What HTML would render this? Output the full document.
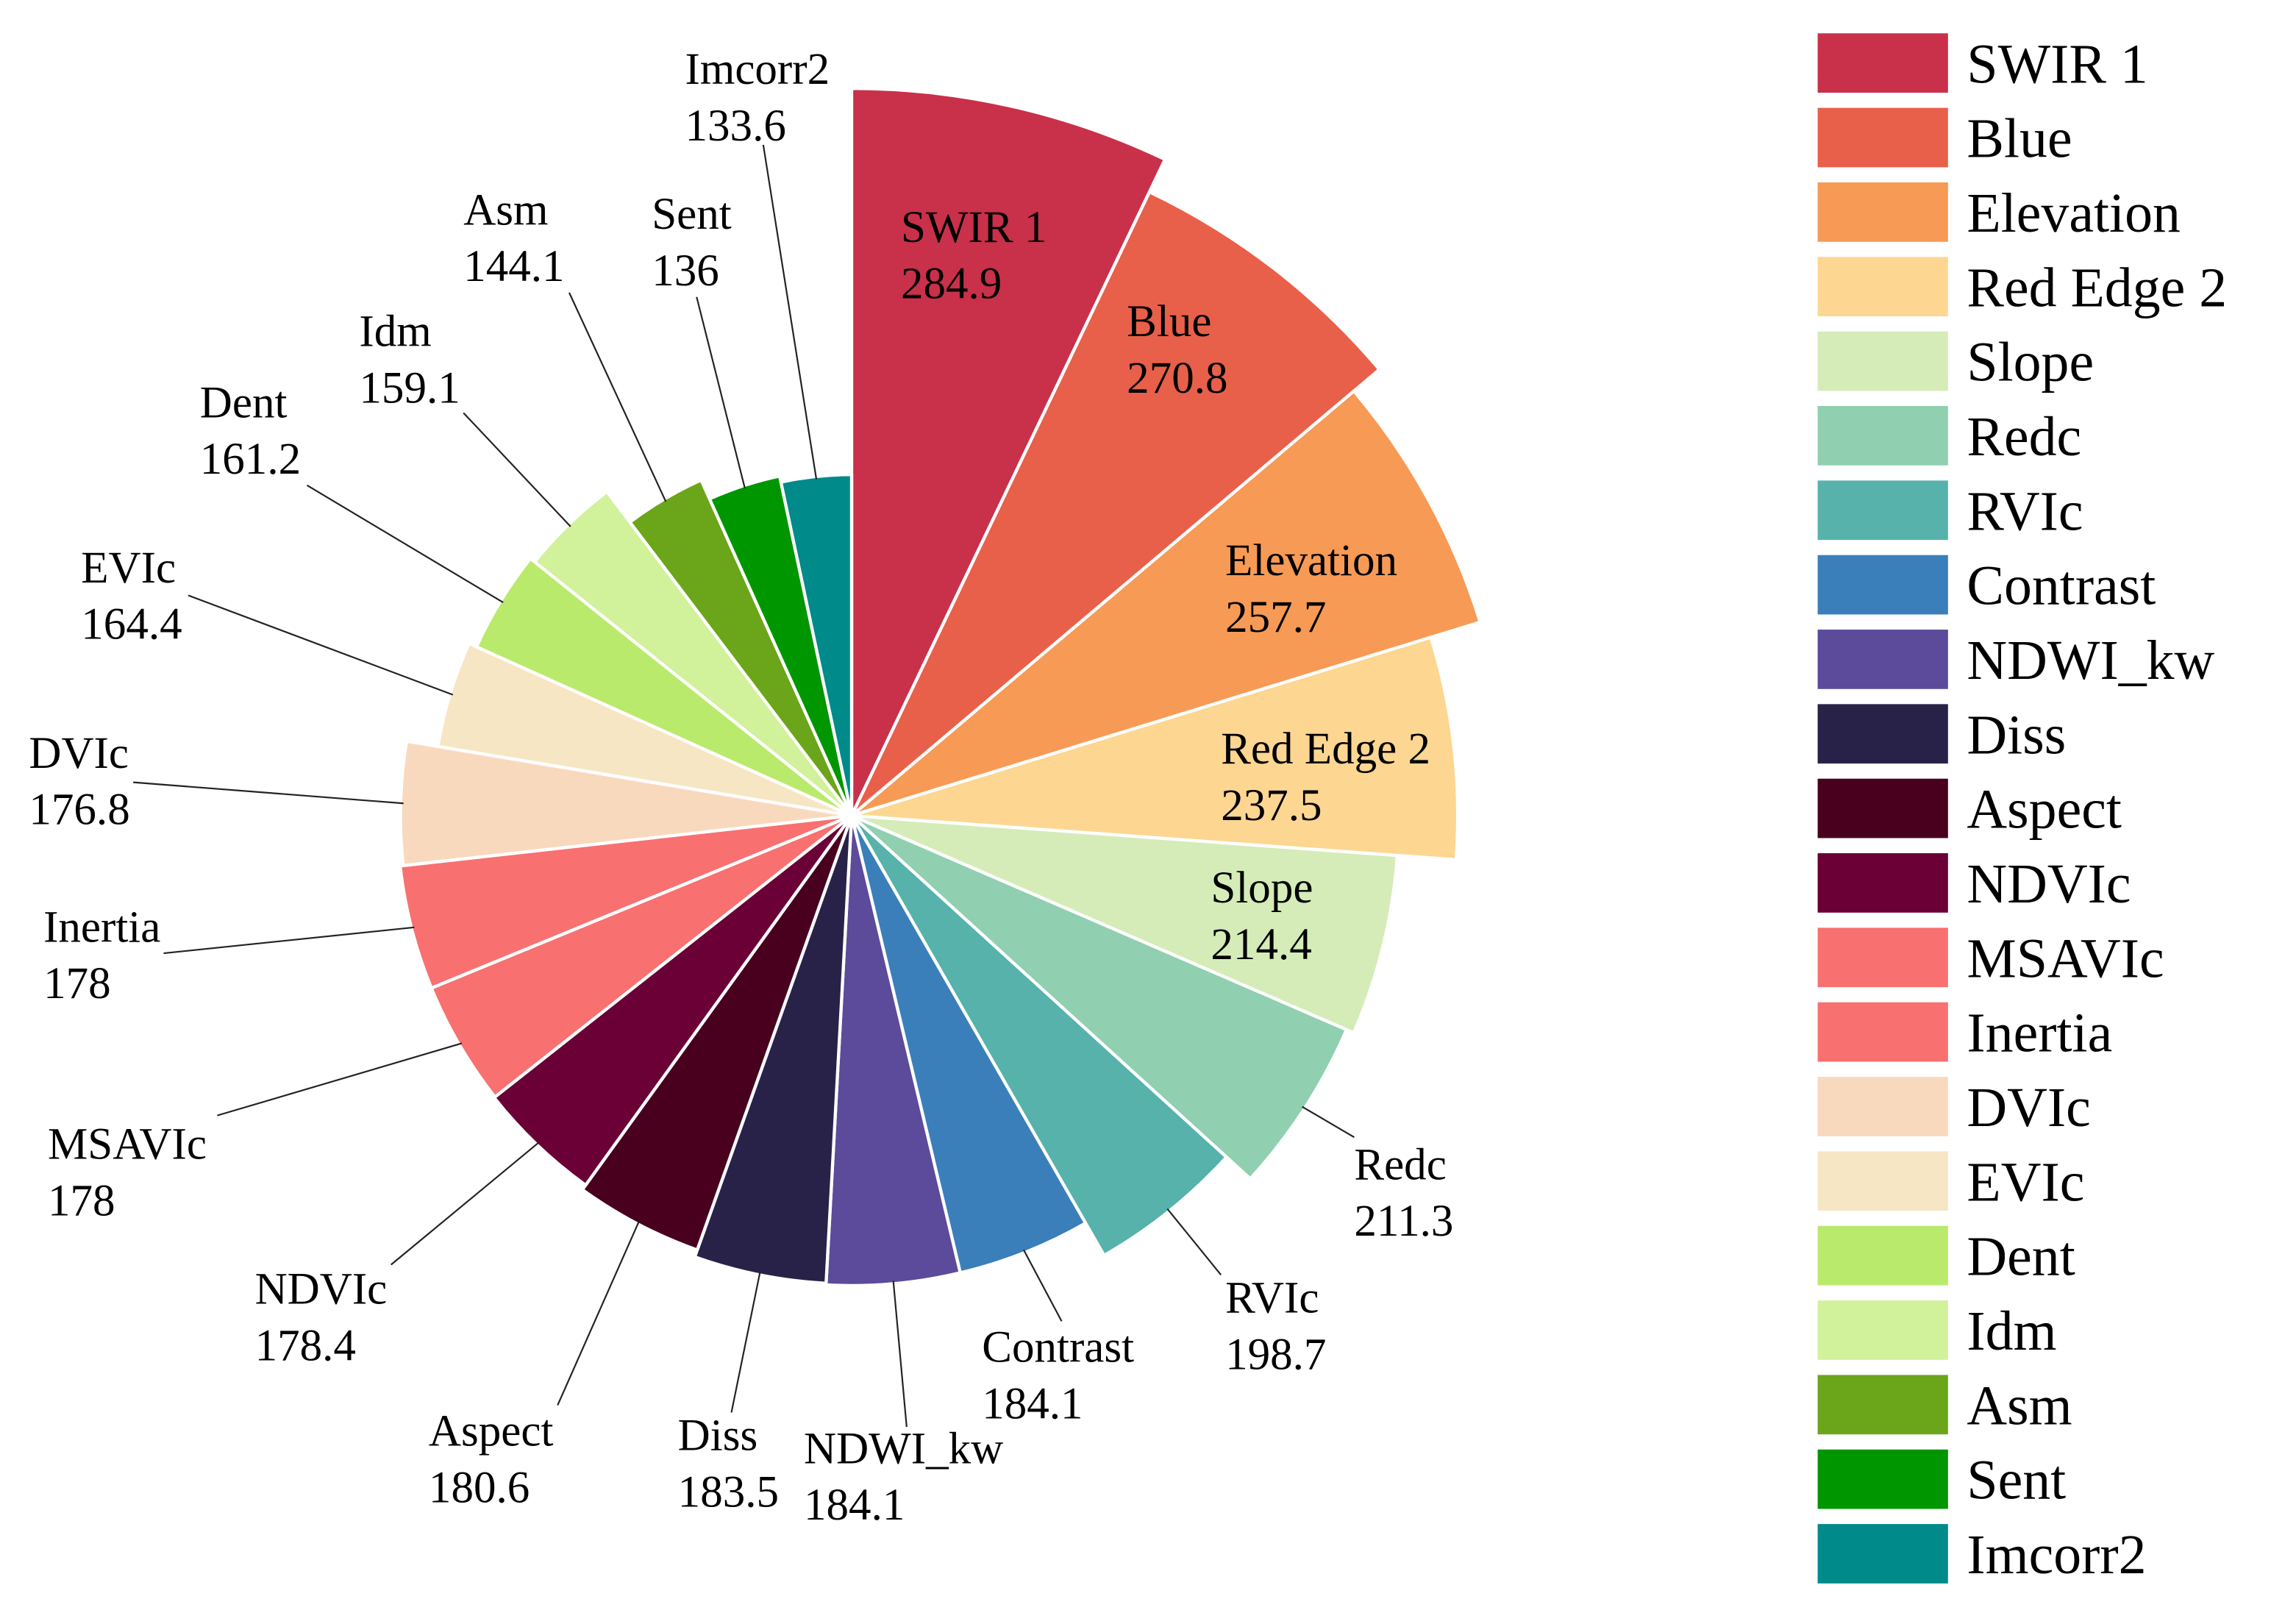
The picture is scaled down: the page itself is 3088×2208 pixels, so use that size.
<!DOCTYPE html>
<html>
<head>
<meta charset="utf-8">
<style>
  html, body { margin: 0; padding: 0; background: #fff; }
  svg { display: block; }
  text { font-family: "Liberation Serif", serif; fill: #000; }
</style>
</head>
<body>
<svg id="chart" width="3088" height="2208" viewBox="0 0 1568 1121" preserveAspectRatio="none" xmlns="http://www.w3.org/2000/svg">
  <g id="slices"></g>
  <g id="labels"></g>
  <g id="legend"></g>
</svg>
<script>
const categories = ["SWIR 1","Blue","Elevation","Red Edge 2","Slope","Redc","RVIc","Contrast","NDWI_kw","Diss","Aspect","NDVIc","MSAVIc","Inertia","DVIc","EVIc","Dent","Idm","Asm","Sent","Imcorr2"];
const values = [284.9,270.8,257.7,237.5,214.4,211.3,198.7,184.1,184.1,183.5,180.6,178.4,178,178,176.8,164.4,161.2,159.1,144.1,136,133.6];
const valueLabels = ["284.9","270.8","257.7","237.5","214.4","211.3","198.7","184.1","184.1","183.5","180.6","178.4","178","178","176.8","164.4","161.2","159.1","144.1","136","133.6"];
const colors = ["#c9304a","#e8604a","#f79a55","#fdd692","#d5ecb8","#90cfb0","#56b2aa","#3a7fba","#5b4b9a","#282248","#48001e","#6a0036","#f87070","#f87070","#f9d9be","#f7e6c4","#b9ea6b","#d1f19a","#6ba519","#009600","#008a8a"];
const legendOrder = ["SWIR 1","Blue","Elevation","Red Edge 2","Slope","Redc","RVIc","Contrast","NDWI_kw","Diss","Aspect","NDVIc","MSAVIc","Inertia","DVIc","EVIc","Dent","Idm","Asm","Sent","Imcorr2"];

// layout (not data)
const CX = 588, CY = 563, K = 1.762;
const inside = { "SWIR 1":[622,167], "Blue":[778,232], "Elevation":[846,397], "Red Edge 2":[843,527], "Slope":[836,623] };
const outside = {
  "Redc":[935,814,935,785], "RVIc":[846,906,843,880], "Contrast":[678,940,733,912],
  "NDWI_kw":[555,1010,626,985], "Diss":[468,1001,505,975], "Aspect":[296,998,385,970],
  "NDVIc":[176,900,270,873], "MSAVIc":[33,800,150,770], "Inertia":[30,650,113,658],
  "DVIc":[20,530,92,540], "EVIc":[56,402,130,411], "Dent":[138,288,212,335],
  "Idm":[248,239,320,285], "Asm":[320,155,393,202], "Sent":[450,158,481,205],
  "Imcorr2":[473,58,527,100]
};

const NS = "http://www.w3.org/2000/svg";
const total = values.reduce((a,b)=>a+b,0);
function rScale(v){ return v*K; }
function aScale(v){ return v/total*2*Math.PI; }
function pt(a,r){ return [CX + r*Math.sin(a), CY - r*Math.cos(a)]; }

const gS = document.getElementById('slices');
const gL = document.getElementById('labels');
let acc = 0;
for (let i=0;i<values.length;i++){
  const a0 = acc, a1 = acc + aScale(values[i]); acc = a1;
  const r = rScale(values[i]);
  const p0 = pt(a0,r), p1 = pt(a1,r);
  const large = (a1-a0) > Math.PI ? 1 : 0;
  const path = document.createElementNS(NS,'path');
  path.setAttribute('d', `M${CX},${CY} L${p0[0]},${p0[1]} A${r},${r} 0 ${large} 1 ${p1[0]},${p1[1]} Z`);
  path.setAttribute('fill', colors[i]);
  path.setAttribute('stroke', '#fff');
  path.setAttribute('stroke-width', '2.2');
  path.setAttribute('stroke-linejoin', 'round');
  
  
  gS.appendChild(path);

  const name = categories[i];
  let tx, ty;
  if (inside[name]) { tx = inside[name][0]; ty = inside[name][1]; }
  else {
    const o = outside[name];
    tx = o[0]; ty = o[1];
    const am = (a0+a1)/2;
    const pe = pt(am, r - 2);
    const ln = document.createElementNS(NS,'line');
    ln.setAttribute('x1', o[2]); ln.setAttribute('y1', o[3]);
    ln.setAttribute('x2', pe[0]); ln.setAttribute('y2', pe[1]);
    ln.setAttribute('stroke', '#222'); ln.setAttribute('stroke-width', '1.1');
    
    
    gL.appendChild(ln);
  }
  const t1 = document.createElementNS(NS,'text');
  t1.setAttribute('x', tx); t1.setAttribute('y', ty); t1.setAttribute('font-size', '31');
  t1.textContent = name;
  
  
  gL.appendChild(t1);
  const t2 = document.createElementNS(NS,'text');
  t2.setAttribute('x', tx); t2.setAttribute('y', ty + 39); t2.setAttribute('font-size', '31');
  t2.textContent = valueLabels[i];
  
  
  gL.appendChild(t2);
}

const gG = document.getElementById('legend');
legendOrder.forEach((name, j) => {
  const i = categories.indexOf(name);
  const y = 23 + j*51.45;
  const rect = document.createElementNS(NS,'rect');
  rect.setAttribute('x', 1255); rect.setAttribute('y', y);
  rect.setAttribute('width', 90); rect.setAttribute('height', 41);
  rect.setAttribute('fill', colors[i]);
  
  
  gG.appendChild(rect);
  const t = document.createElementNS(NS,'text');
  t.setAttribute('x', 1358); t.setAttribute('y', y + 34);
  t.setAttribute('font-size', '38.5');
  t.textContent = name;
  
  
  gG.appendChild(t);
});
</script>
</body>
</html>
